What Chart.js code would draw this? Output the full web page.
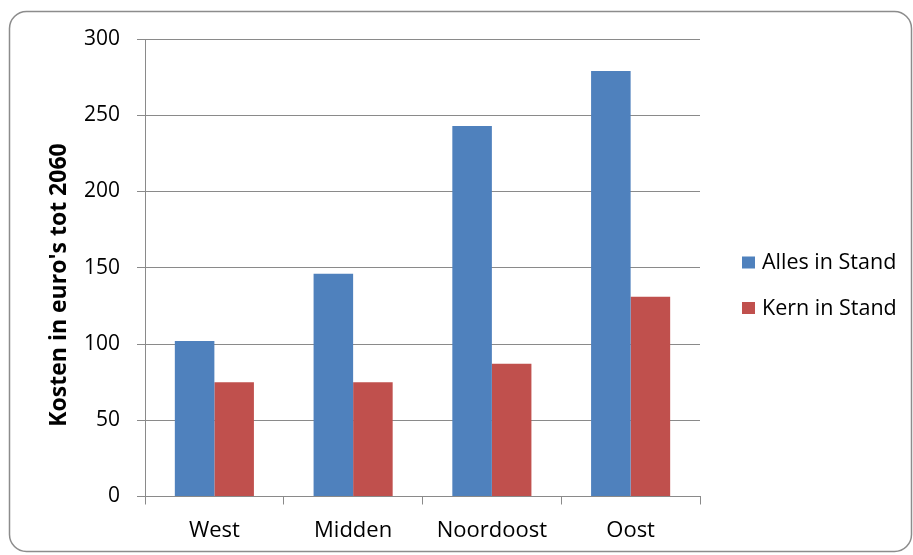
<!DOCTYPE html>
<html>
<head>
<meta charset="utf-8">
<script src="https://cdn.jsdelivr.net/npm/chart.js@4"></script>
<style>
  html, body { margin: 0; padding: 0; background: #ffffff; }
  #wrap { width: 913px; height: 555px; }
</style>
</head>
<body>
<div id="wrap"><canvas id="c" width="913" height="555"></canvas></div>
<script>
// Regio's en kosten per scenario (euro's tot 2060)
const regions = ['West', 'Midden', 'Noordoost', 'Oost'];
const allesInStand = [102, 146, 243, 279];
const kernInStand = [75, 75, 87, 131];
const seriesNames = ['Alles in Stand', 'Kern in Stand'];
const yTickValues = [0, 50, 100, 150, 200, 250, 300];
const yAxisTitle = "Kosten in euro's tot 2060";

const BLUE = '#4f81bd';
const RED = '#c0504d';
const GRID = '#8a8a8a';
const FONT = '"Open Sans", "Liberation Sans", sans-serif';

// White panel with a rounded grey frame behind the chart
const framePlugin = {
  id: 'frame',
  beforeDraw(chart) {
    const ctx = chart.ctx;
    ctx.save();
    ctx.fillStyle = '#ffffff';
    ctx.fillRect(0, 0, chart.width, chart.height);
    const x = 9.5, y = 11.5, w = 902, h = 540, r = 17;
    ctx.beginPath();
    ctx.moveTo(x + r, y);
    ctx.lineTo(x + w - r, y);
    ctx.arcTo(x + w, y, x + w, y + r, r);
    ctx.lineTo(x + w, y + h - r);
    ctx.arcTo(x + w, y + h, x + w - r, y + h, r);
    ctx.lineTo(x + r, y + h);
    ctx.arcTo(x, y + h, x, y + h - r, r);
    ctx.lineTo(x, y + r);
    ctx.arcTo(x, y, x + r, y, r);
    ctx.closePath();
    ctx.lineWidth = 1.5;
    ctx.strokeStyle = '#8c8c8c';
    ctx.stroke();
    ctx.restore();
  }
};

// Rotated bold axis title and the legend to the right of the plot
const annotatePlugin = {
  id: 'annotate',
  afterDraw(chart) {
    const ctx = chart.ctx;
    ctx.save();
    ctx.translate(59, 285);
    ctx.rotate(-Math.PI / 2);
    ctx.font = 'bold 23px ' + FONT;
    ctx.fillStyle = '#000000';
    ctx.textAlign = 'center';
    ctx.textBaseline = 'middle';
    ctx.fillText(yAxisTitle, 0, 0);
    ctx.restore();

    ctx.save();
    ctx.font = '21.5px ' + FONT;
    ctx.textBaseline = 'middle';
    ctx.textAlign = 'left';
    const rows = [263, 308.5];
    chart.data.datasets.forEach((ds, i) => {
      const cy = rows[i];
      ctx.fillStyle = ds.backgroundColor;
      ctx.fillRect(742, cy - 6.5, 13, 12);
      ctx.fillStyle = '#000000';
      ctx.fillText(ds.label, 762, cy);
    });
    ctx.restore();
  }
};

new Chart(document.getElementById('c'), {
  type: 'bar',
  data: {
    labels: regions,
    datasets: [
      { label: seriesNames[0], data: allesInStand, backgroundColor: BLUE, borderWidth: 0 },
      { label: seriesNames[1], data: kernInStand, backgroundColor: RED, borderWidth: 0 }
    ]
  },
  options: {
    responsive: false,
    animation: false,
    devicePixelRatio: 1,
    layout: { padding: { left: 0, right: 213, top: 39, bottom: 13.5 } },
    datasets: { bar: { categoryPercentage: 0.57, barPercentage: 1.0 } },
    plugins: {
      legend: { display: false },
      tooltip: { enabled: false },
      title: { display: false }
    },
    scales: {
      x: {
        grid: { drawOnChartArea: false, drawTicks: true, tickLength: 8, color: GRID, offset: true },
        border: { color: GRID, width: 1 },
        ticks: { color: '#000000', font: { family: FONT, size: 22 }, padding: 13, maxRotation: 0 },
        afterFit(scale) { scale.height = 45; }
      },
      y: {
        min: 0,
        max: 300,
        afterBuildTicks(scale) { scale.ticks = yTickValues.map(v => ({ value: v })); },
        grid: { color: GRID, tickLength: 8, drawTicks: true },
        border: { color: GRID, width: 1 },
        ticks: { color: '#000000', font: { family: FONT, size: 21 }, padding: 17 },
        afterFit(scale) { scale.width = 145; }
      }
    }
  },
  plugins: [framePlugin, annotatePlugin]
});
</script>
</body>
</html>
